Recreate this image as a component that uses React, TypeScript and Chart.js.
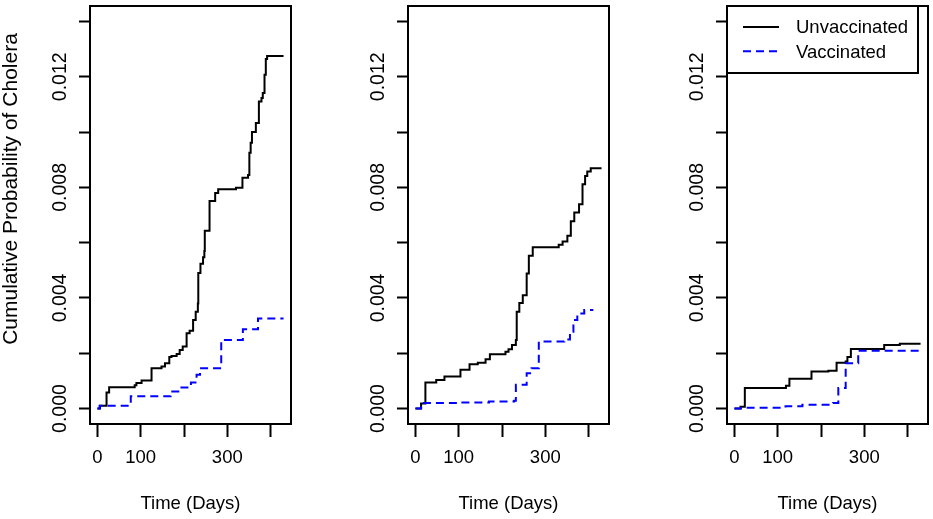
import React, { useEffect, useRef } from 'react';
import { Chart, registerables } from 'chart.js';

Chart.register(...registerables);

// ---- Data ----
const seriesNames = ['Unvaccinated', 'Vaccinated'];
const seriesColors = ['#000000', '#0000FF'];
const xTitle = 'Time (Days)';
const yTitle = 'Cumulative Probability of Cholera';

const xTicks = [0, 100, 200, 300, 400];
const xTickLabels = ['0', '100', '', '300', ''];
const yTicks = [0, 0.002, 0.004, 0.006, 0.008, 0.01, 0.012, 0.014];
const yTickLabels = ['0.000', '', '0.004', '', '0.008', '', '0.012', ''];
const xLimits = [-17.2, 447.2];
const yLimits = [-0.00056, 0.01456];

// Panel 1
const p1UnvDays = [0, 6, 21, 27, 86, 90, 102, 125, 148, 156, 166, 171, 183, 190, 197, 206, 213, 221, 227, 232, 233, 238, 244, 247, 248, 259, 272, 279, 320, 335, 348, 351, 354, 357, 366, 373, 379, 382, 386, 389, 392, 430];
const p1UnvVals = [0, 0.0001, 0.00058, 0.00077, 0.00084, 0.00092, 0.00101, 0.00146, 0.00152, 0.00164, 0.00186, 0.0019, 0.00197, 0.00212, 0.00224, 0.00272, 0.00281, 0.0032, 0.0035, 0.0038, 0.0049, 0.00524, 0.00547, 0.0057, 0.00643, 0.00751, 0.0078, 0.00793, 0.00799, 0.00835, 0.00845, 0.00925, 0.00961, 0.01, 0.01033, 0.01111, 0.01123, 0.01141, 0.01207, 0.01264, 0.01275, 0.01275];
const p1VacDays = [0, 5, 77, 169, 190, 216, 229, 237, 286, 336, 371, 430];
const p1VacVals = [0, 0.0001, 0.00044, 0.00062, 0.00076, 0.00094, 0.00122, 0.00146, 0.00248, 0.00287, 0.00326, 0.00326];

// Panel 2
const p2UnvDays = [0, 13, 23, 48, 67, 104, 125, 144, 162, 172, 208, 215, 223, 232, 234, 240, 248, 257, 262, 271, 331, 340, 351, 359, 367, 378, 386, 392, 397, 405, 430];
const p2UnvVals = [0, 0.00018, 0.00094, 0.00103, 0.00116, 0.0014, 0.0016, 0.00166, 0.00178, 0.00196, 0.00205, 0.00214, 0.0023, 0.00248, 0.0035, 0.00382, 0.0041, 0.00488, 0.00553, 0.00583, 0.00592, 0.00604, 0.00625, 0.00677, 0.00709, 0.00739, 0.00811, 0.00841, 0.00857, 0.00869, 0.00869];
const p2VacDays = [0, 13, 100, 170, 228, 232, 257, 268, 285, 344, 357, 365, 374, 390, 411];
const p2VacVals = [0, 0.0002, 0.00022, 0.00025, 0.00028, 0.00086, 0.00128, 0.00146, 0.00242, 0.0025, 0.00278, 0.0032, 0.00344, 0.00356, 0.00356];

// Panel 3
const p3UnvDays = [0, 14, 24, 119, 127, 178, 217, 236, 257, 261, 269, 346, 382, 430];
const p3UnvVals = [0, 0.00006, 0.00074, 0.00082, 0.00108, 0.00134, 0.00137, 0.00166, 0.0017, 0.00186, 0.00215, 0.0023, 0.00234, 0.00234];
const p3VacDays = [0, 15, 118, 157, 228, 240, 257, 286, 430];
const p3VacVals = [0, 0.00003, 0.00008, 0.00014, 0.0002, 0.00074, 0.00164, 0.00209, 0.00209];

const FONT = "'Liberation Sans', Arial, Helvetica, sans-serif";

type PanelProps = {
  left: number;
  width: number;
  rightPad: number;
  unvDays: number[];
  unvVals: number[];
  vacDays: number[];
  vacVals: number[];
  showYTitle: boolean;
  showLegend: boolean;
};

function Panel(props: PanelProps) {
  const ref = useRef<HTMLCanvasElement>(null);
  useEffect(() => {
    const canvas = ref.current as HTMLCanvasElement;
    const { rightPad, unvDays, unvVals, vacDays, vacVals, showYTitle, showLegend } = props;

    const boxPlugin = {
      id: 'rbox',
      afterDraw(chart: any) {
        const { ctx, chartArea: a } = chart;
        ctx.save();
        ctx.strokeStyle = '#000';
        ctx.lineWidth = 2;
        ctx.setLineDash([]);
        ctx.strokeRect(a.left, a.top, a.right - a.left, a.bottom - a.top);
        if (showYTitle) {
          ctx.save();
          ctx.translate(11, 189);
          ctx.rotate(-Math.PI / 2);
          ctx.font = `21px ${FONT}`;
          ctx.fillStyle = '#000';
          ctx.textAlign = 'center';
          ctx.textBaseline = 'middle';
          ctx.fillText(yTitle, 0, 0);
          ctx.restore();
        }
        if (showLegend) {
          const lx = a.left;
          const ly = a.top;
          ctx.fillStyle = '#fff';
          ctx.fillRect(lx, ly, 191, 67);
          ctx.strokeRect(lx, ly, 191, 67);
          const rows = [21, 45.3];
          ctx.font = `18.5px ${FONT}`;
          ctx.textBaseline = 'middle';
          ctx.textAlign = 'left';
          for (let i = 0; i < 2; i++) {
            ctx.beginPath();
            ctx.strokeStyle = seriesColors[i];
            ctx.lineWidth = 2;
            ctx.setLineDash(i === 1 ? [8, 5] : []);
            ctx.moveTo(lx + 16, ly + rows[i]);
            ctx.lineTo(lx + 52, ly + rows[i]);
            ctx.stroke();
            ctx.setLineDash([]);
            ctx.fillStyle = '#000';
            ctx.fillText(seriesNames[i], lx + 69, ly + rows[i] + 1.2);
          }
        }
        ctx.restore();
      },
    };

    const chart = new Chart(canvas, {
      type: 'line',
      data: {
        datasets: [
          {
            label: seriesNames[0],
            data: unvDays.map((d, i) => ({ x: d, y: unvVals[i] })),
            borderColor: seriesColors[0],
            borderWidth: 2,
            pointRadius: 0,
            stepped: 'before',
            fill: false,
            order: 1,
          },
          {
            label: seriesNames[1],
            data: vacDays.map((d, i) => ({ x: d, y: vacVals[i] })),
            borderColor: seriesColors[1],
            borderWidth: 2,
            borderDash: [8, 5],
            pointRadius: 0,
            stepped: 'before',
            fill: false,
            order: 0,
          },
        ],
      },
      options: {
        responsive: false,
        animation: false,
        devicePixelRatio: 1,
        layout: { padding: { top: 4, right: rightPad, left: 0, bottom: 0 } },
        plugins: { legend: { display: false }, tooltip: { enabled: false } },
        scales: {
          x: {
            type: 'linear',
            min: xLimits[0],
            max: xLimits[1],
            afterBuildTicks: (s: any) => {
              s.ticks = xTicks.map((v) => ({ value: v }));
            },
            afterFit: (s: any) => {
              s.height = 95;
            },
            grid: {
              display: true,
              drawOnChartArea: false,
              drawTicks: true,
              tickLength: 13,
              tickWidth: 2,
              tickColor: '#000',
            },
            border: { display: false },
            ticks: {
              autoSkip: false,
              minRotation: 0,
              maxRotation: 0,
              padding: 10,
              color: '#000',
              font: { family: FONT, size: 18.5 },
              callback: (v: any) => {
                const i = xTicks.findIndex((t) => Math.abs(t - Number(v)) < 1e-6);
                return i >= 0 ? xTickLabels[i] : '';
              },
            },
            title: {
              display: true,
              text: xTitle,
              color: '#000',
              font: { family: FONT, size: 18.5 },
              padding: { top: 0, bottom: 4 },
            },
          },
          y: {
            type: 'linear',
            min: yLimits[0],
            max: yLimits[1],
            afterBuildTicks: (s: any) => {
              s.ticks = yTicks.map((v) => ({ value: v }));
            },
            afterFit: (s: any) => {
              s.width = 90;
            },
            grid: {
              display: true,
              drawOnChartArea: false,
              drawTicks: true,
              tickLength: 11,
              tickWidth: 2,
              tickColor: '#000',
            },
            border: { display: false },
            ticks: {
              autoSkip: false,
              minRotation: 90,
              maxRotation: 90,
              crossAlign: 'center',
              padding: -5.7,
              color: '#000',
              font: { family: FONT, size: 19.5 },
              callback: (v: any) => {
                const i = yTicks.findIndex((t) => Math.abs(t - Number(v)) < 1e-9);
                return i >= 0 ? yTickLabels[i] : '';
              },
            },
            title: { display: false },
          },
        },
      },
      plugins: [boxPlugin],
    } as any);
    return () => chart.destroy();
  }, []);
  return (
    <canvas
      ref={ref}
      width={props.width}
      height={519}
      style={{ position: 'absolute', left: props.left, top: 0, width: props.width, height: 519 }}
    />
  );
}

export default function App() {
  return (
    <div style={{ position: 'absolute', left: 0, top: 0, width: 933, height: 519, background: '#fff', overflow: 'hidden' }}>
      <Panel left={0} width={311} rightPad={20} unvDays={p1UnvDays} unvVals={p1UnvVals} vacDays={p1VacDays} vacVals={p1VacVals} showYTitle={true} showLegend={false} />
      <Panel left={318} width={311} rightPad={20} unvDays={p2UnvDays} unvVals={p2UnvVals} vacDays={p2VacDays} vacVals={p2VacVals} showYTitle={false} showLegend={false} />
      <Panel left={637} width={296} rightPad={5} unvDays={p3UnvDays} unvVals={p3UnvVals} vacDays={p3VacDays} vacVals={p3VacVals} showYTitle={false} showLegend={true} />
    </div>
  );
}
